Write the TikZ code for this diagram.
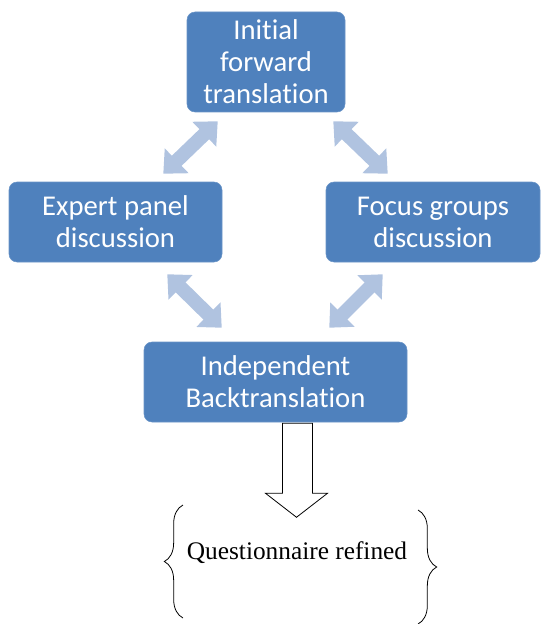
\documentclass[tikz,border=0pt]{standalone}
\usepackage{fontspec}
\usepackage{xcolor}
\usepackage{tikz}
\usetikzlibrary{arrows.meta, decorations.pathreplacing}

\newfontfamily\boxfont[Ligatures=NoCommon]{Carlito}
\newfontfamily\notefont{Liberation Serif}
\definecolor{boxblue}{RGB}{79,129,189}
\definecolor{arrowblue}{RGB}{176,195,224}

\begin{document}
\begin{tikzpicture}[x=0.75pt, y=-0.75pt,
        box/.style={rectangle, rounded corners=6pt, fill=boxblue, draw=boxblue!85!white,
            text=white, align=center, inner sep=0pt,
            font=\boxfont\fontsize{21.5}{24}\selectfont},
        twoway/.style={draw=arrowblue, line width=10.5pt,
            {Triangle[width=25pt, length=14pt]}-{Triangle[width=25pt, length=14pt]}}]
        \useasboundingbox (0, 0) rectangle (542, 624);

        % the four steps
        \node [box, minimum width=118.5pt, minimum height=75pt] (forward) at (266, 62) {Initial\\forward\\translation};
        \node [box, minimum width=159.75pt, minimum height=60pt] (expert) at (115.5, 222) {Expert panel\\discussion};
        \node [box, minimum width=160.5pt, minimum height=60pt] (focus) at (433, 222) {Focus groups\\discussion};
        \node [box, minimum width=197.25pt, minimum height=60pt] (back) at (275.5, 382) {Independent\\Backtranslation};

        % double arrows between the steps
        \draw [twoway] ([xshift=-44.25pt, yshift=6pt]expert.north east) -- ([xshift=23.25pt, yshift=-6.75pt]forward.south west);
        \draw [twoway] ([xshift=-9pt, yshift=-6.75pt]forward.south east) -- ([xshift=46.5pt, yshift=6pt]focus.north west);
        \draw [twoway] ([xshift=-41.25pt, yshift=-9pt]expert.south east) -- ([xshift=58.5pt, yshift=10.5pt]back.north west);
        \draw [twoway] ([xshift=-58.5pt, yshift=10.5pt]back.north east) -- ([xshift=42.75pt, yshift=-9pt]focus.south west);

        % hollow arrow down to the result
        \coordinate (down) at ([xshift=16.5pt, yshift=-0.75pt]back.south);
        \draw [semithick] (down) ++(-15, 0) -- ++(0, 70) -- ++(-17, 0) -- ++(31, 24) -- ++(31, -24)
            -- ++(-15, 0) -- ++(0, -70) -- cycle;

        \node [font=\notefont\fontsize{19}{23}\selectfont] (refined) at (297, 553) {Questionnaire refined};
        \draw [semithick, decorate, decoration={brace, amplitude=14pt}] (183, 618) -- (183, 505);
        \draw [semithick, decorate, decoration={brace, amplitude=14pt}] (418, 510) -- (418, 624);
\end{tikzpicture}
\end{document}
